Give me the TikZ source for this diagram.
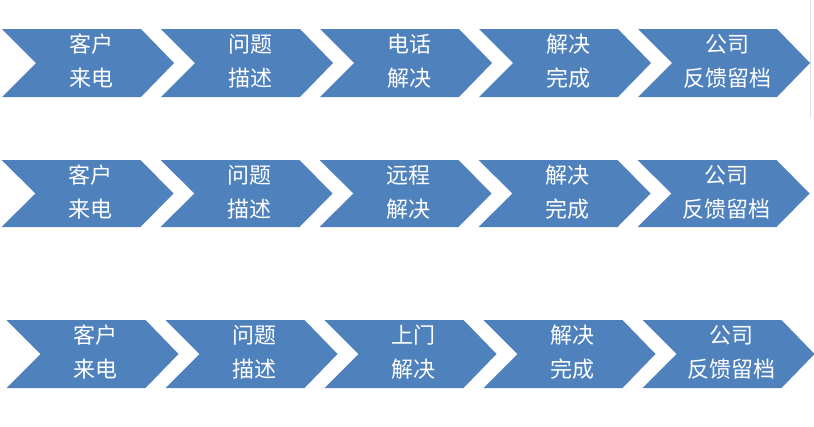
\documentclass[tikz,border=0pt]{standalone}
\usepackage{fontspec}
\newfontfamily\cjk{Noto Sans CJK SC}
\definecolor{chevblue}{HTML}{4F81BD}
\tikzset{
  chev/.style={fill=chevblue,draw=none},
  chevtext/.style={text=white,font=\cjk\fontsize{22}{34}\selectfont,align=center,inner sep=0pt},
  edgeline/.style={draw=black!12,line width=0.8pt}
}
\begin{document}
\begin{tikzpicture}[x=1pt,y=-1pt]
\useasboundingbox (0,0) rectangle (814,426);
\fill[white] (0,0) rectangle (814,426);
\coordinate (ga) at (810,0);
\coordinate (gb) at (810,118);
\draw[edgeline] (ga) -- (gb);
\foreach \r/\t/\b/\l/\third in {1/29/97/2/电话, 2/160/227/1.5/远程, 3/320/388/6.5/上门}{
  \foreach \i/\txt in {1/{客户\\来电}, 2/{问题\\描述}, 3/{\third\\解决}, 4/{解决\\完成}, 5/{公司\\反馈留档}}{
    \pgfmathsetmacro\L{\l+159*(\i-1)}
    \pgfmathsetmacro\m{(\t+\b)/2}
    \fill[chev] (\L,\t) -- ({\L+139},\t) -- ({\L+172},\m) -- ({\L+139},\b) -- (\L,\b) -- ({\L+34},\m) -- cycle;
    \node[chevtext] (n\r-\i) at ({\L+89},{\t+32}) {\txt};
  }
}
\end{tikzpicture}
\end{document}
